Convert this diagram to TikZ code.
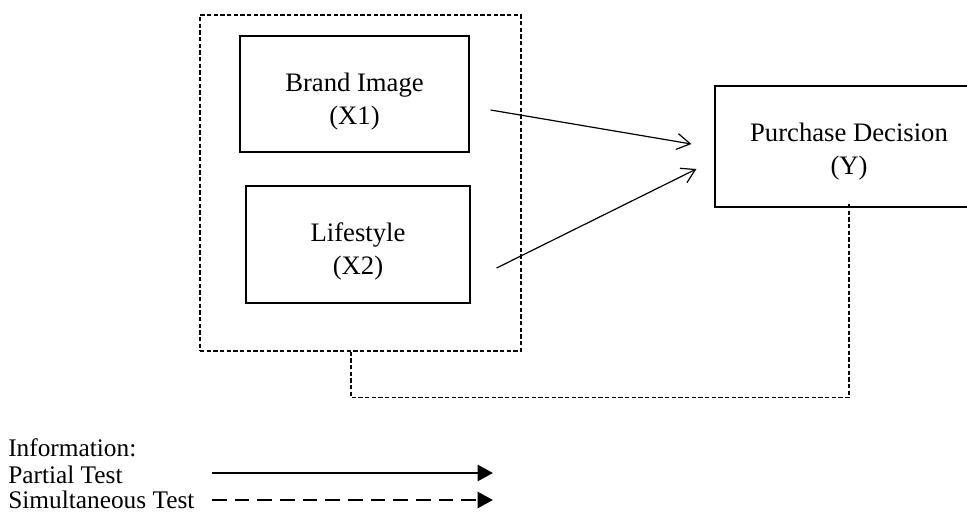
\documentclass[tikz,border=0pt]{standalone}
\usepackage{fontspec}
\setmainfont{Liberation Serif}
\usetikzlibrary{arrows.meta,calc}
\tikzset{
  varbox/.style={draw, line width=0.9pt, inner sep=0pt},
  boxtext/.style={align=center, inner sep=0pt, font=\fontsize{20}{24.75}\selectfont},
  legtext/.style={anchor=west, inner sep=0pt, font=\fontsize{19}{23}\selectfont},
  groupbox/.style={draw, line width=1pt, dash pattern=on 3.2pt off 1.8pt},
  effect/.style={line width=0.9pt, -{Straight Barb[length=10pt,width=12pt,line width=0.9pt]}},
  simul/.style={line width=1pt, dash pattern=on 3.2pt off 1.8pt},
  legpartial/.style={line width=1.8pt, -{Triangle[length=11.5pt,width=12pt]}},
  legsimul/.style={line width=1.8pt, dash pattern=on 11pt off 6pt, -{Triangle[length=11.5pt,width=12pt]}}
}
\begin{document}
\begin{tikzpicture}[x=0.75pt, y=-0.75pt]
  \useasboundingbox (0,0) rectangle (967,518);
  \clip (0,0) rectangle (967,518);

  % independent variables inside the dashed group
  \node[groupbox, minimum width=321*0.75pt, minimum height=336*0.75pt] (grp) at (360.5,183) {};
  \node[varbox, minimum width=229*0.75pt, minimum height=116*0.75pt] (x1) at (354.5,94) {};
  \node[boxtext] (x1t) at (354.5,101.5) {Brand Image\\(X1)};
  \node[varbox, minimum width=224*0.75pt, minimum height=117*0.75pt] (x2) at (358,244.5) {};
  \node[boxtext] (x2t) at (358,251) {Lifestyle\\(X2)};

  % dependent variable
  \node[varbox, minimum width=268*0.75pt, minimum height=121*0.75pt] (y) at (849,146.5) {};
  \node[boxtext] (yt) at (849,151.5) {Purchase Decision\\(Y)};

  % partial effects
  \coordinate (a1s) at ($(x1.east)+(21,16)$);
  \coordinate (a1e) at ($(y.west)+(-23,-2.5)$);
  \coordinate (a2s) at ($(x2.east)+(26,23.5)$);
  \coordinate (a2e) at ($(y.west)+(-18,22.5)$);
  \draw[effect] (a1s) -- (a1e);
  \draw[effect] (a2s) -- (a2e);

  % simultaneous effect
  \coordinate (gs) at ($(grp.south)+(-9.5,0)$);
  \coordinate (ye) at ($(y.south)+(0,-4)$);
  \draw[simul] (gs) -- ++(0,46) -| (ye);

  % legend
  \node[legtext] (info) at (8,448) {Information:};
  \node[legtext] (pt) at (8,475) {Partial Test};
  \node[legtext] (st) at (8,500) {Simultaneous Test};
  \coordinate (pa) at (212,473);
  \coordinate (pb) at (493,473);
  \coordinate (sa) at (212,500);
  \coordinate (sb) at (493,500);
  \draw[legpartial] (pa) -- (pb);
  \draw[legsimul] (sa) -- (sb);
\end{tikzpicture}
\end{document}
